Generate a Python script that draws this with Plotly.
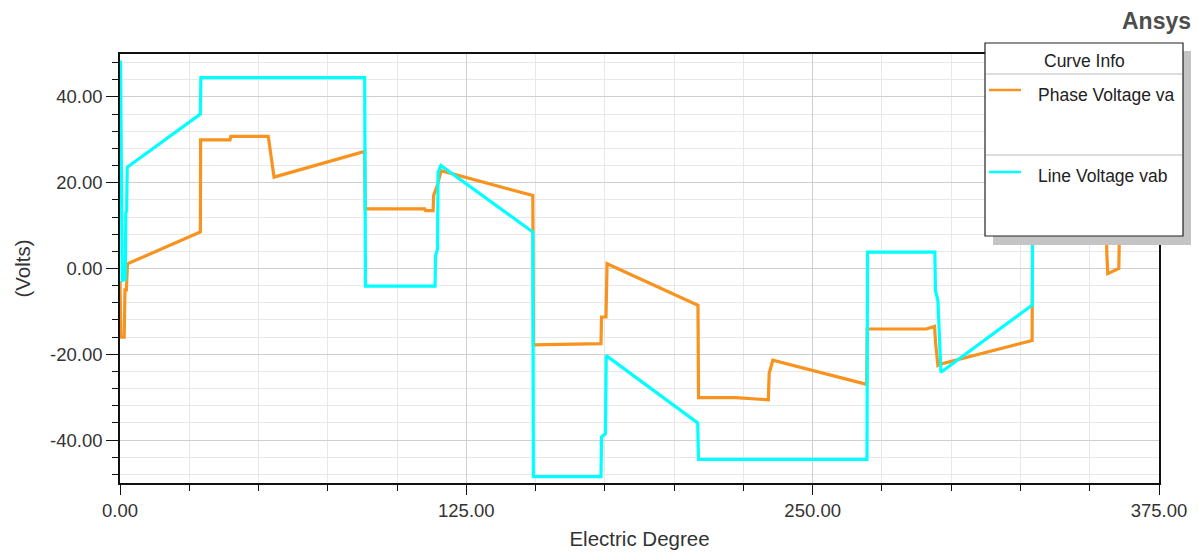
import plotly.graph_objects as go

# Phase Voltage va
va_x = [0.0, 0.3, 1.5, 1.8, 2.3, 2.7, 29.0, 29.1, 39.7, 40.0, 53.5, 54.2, 55.0, 55.6,
        88.3, 88.5, 110.0, 110.3, 113.0, 113.2, 114.6, 115.9, 149.0, 149.2, 173.6, 173.8,
        175.4, 175.8, 208.6, 208.8, 222.0, 234.0, 234.3, 235.6, 269.5, 269.7, 291.0, 294.0,
        294.3, 295.2, 296.0, 329.2, 329.4, 353.6, 353.9, 355.9, 356.2, 356.5, 360.5, 360.9]
va_y = [-3.0, -16.0, -16.0, -5.0, -5.0, 1.1, 8.5, 30.0, 30.0, 30.8, 30.8, 27.5, 24.0, 21.3,
        27.3, 13.9, 13.9, 13.5, 13.5, 17.0, 19.5, 22.8, 17.0, -17.8, -17.5, -11.3,
        -11.3, 1.1, -8.6, -30.1, -30.1, -30.6, -24.5, -21.4, -27.0, -14.1, -14.1, -13.5,
        -16.8, -22.6, -22.3, -16.8, 17.8, 17.8, 11.3, 11.3, 3.0, -1.2, 0.0, 16.0]

# Line Voltage vab
vab_x = [0.2, 0.8, 1.9, 2.1, 2.4, 2.6, 29.0, 29.2, 88.3, 88.6, 113.7, 113.9, 114.6, 114.8,
         115.8, 149.0, 149.2, 173.6, 173.8, 175.2, 175.5, 208.5, 208.8, 269.6, 269.8, 294.1,
         294.3, 295.2, 296.3, 329.3, 329.5, 353.6, 353.8, 355.2, 355.5, 361.0]
vab_y = [48.5, -2.8, -2.5, 13.0, 13.5, 23.6, 36.0, 44.5, 44.5, -4.1, -4.1, 3.0, 4.5, 22.4,
         24.0, 8.5, -48.5, -48.5, -39.3, -38.5, -20.3, -36.0, -44.5, -44.5, 3.8, 3.8,
         -5.1, -7.5, -24.2, -8.5, 48.5, 48.5, 39.3, 38.5, 20.3, 22.0]

series_names = ["Phase Voltage va", "Line Voltage vab"]
x_ticks = [0, 125, 250, 375]
x_labels = ["0.00", "125.00", "250.00", "375.00"]
y_ticks = [-40, -20, 0, 20, 40]
y_labels = ["-40.00", "-20.00", "0.00", "20.00", "40.00"]

ORANGE = "#F7931E"
CYAN = "#00FFFF"
FONT = "Liberation Sans, Arial, sans-serif"
TXT = "#333333"

fig = go.Figure()
fig.add_trace(go.Scatter(x=va_x, y=va_y, mode="lines", name=series_names[0],
                         line=dict(color=ORANGE, width=3.2)))
fig.add_trace(go.Scatter(x=vab_x, y=vab_y, mode="lines", name=series_names[1],
                         line=dict(color=CYAN, width=3.2)))

# page has an 8px body margin; work in window pixels and subtract it
OFF = 8
FW, FH = 1199 - OFF, 555 - OFF
L, R, T, B = 120, 1159, 54, 483   # plot area in window pixels
W, H = R - L, B - T
def px(x):
    return (x - L) / W
def py(y):
    return (B - y) / H

shapes = [
    dict(type="rect", xref="paper", yref="paper", x0=px(993), x1=px(1192), y0=py(245), y1=py(51),
         fillcolor="#c4c4c4", line=dict(width=0), layer="above"),
    dict(type="rect", xref="paper", yref="paper", x0=px(985), x1=px(1183), y0=py(236), y1=py(43),
         fillcolor="white", line=dict(color="#222222", width=1.2), layer="above"),
    dict(type="line", xref="paper", yref="paper", x0=px(986), x1=px(1182), y0=py(74), y1=py(74),
         line=dict(color="#bbbbbb", width=1), layer="above"),
    dict(type="line", xref="paper", yref="paper", x0=px(986), x1=px(1182), y0=py(155), y1=py(155),
         line=dict(color="#bbbbbb", width=1), layer="above"),
    dict(type="line", xref="paper", yref="paper", x0=px(989), x1=px(1021), y0=py(90), y1=py(90),
         line=dict(color=ORANGE, width=2.5), layer="above"),
    dict(type="line", xref="paper", yref="paper", x0=px(989), x1=px(1021), y0=py(172), y1=py(172),
         line=dict(color=CYAN, width=2.5), layer="above"),
]

annotations = [
    dict(text="Curve Info", xref="paper", yref="paper", x=px(1084), y=py(61), xanchor="center",
         yanchor="middle", showarrow=False, font=dict(family=FONT, size=17.5, color="#222222")),
    dict(text=series_names[0], xref="paper", yref="paper", x=px(1036), y=py(95), xanchor="left",
         yanchor="middle", showarrow=False, font=dict(family=FONT, size=17.5, color="#222222")),
    dict(text=series_names[1], xref="paper", yref="paper", x=px(1036), y=py(176), xanchor="left",
         yanchor="middle", showarrow=False, font=dict(family=FONT, size=17.5, color="#222222")),
    dict(text="<b>Ansys</b>", xref="paper", yref="paper", x=px(1193), y=py(21), xanchor="right",
         yanchor="middle", showarrow=False, font=dict(family=FONT, size=23, color="#4d4d4d")),
]

fig.update_layout(
    template="none",
    width=FW, height=FH,
    margin=dict(l=L - OFF, r=1199 - R, t=T - OFF, b=555 - B, autoexpand=False),
    paper_bgcolor="white", plot_bgcolor="white",
    showlegend=False,
    font=dict(family=FONT, size=18, color=TXT),
    shapes=shapes, annotations=annotations,
    xaxis=dict(
        automargin=False,
        range=[0, 375], tickmode="array", tickvals=x_ticks, ticktext=x_labels,
        ticks="outside", ticklen=10, tickcolor="#111111",
        showline=True, linecolor="#111111", linewidth=1.5, mirror=True,
        showgrid=True, gridcolor="#cfcfcf", gridwidth=1, zeroline=False,
        minor=dict(dtick=25, tick0=0, ticks="outside", ticklen=6, tickcolor="#111111",
                   showgrid=True, gridcolor="#e8e8e8", gridwidth=1),
        title=dict(text="Electric Degree", font=dict(size=20.5, color=TXT), standoff=12),
        tickfont=dict(size=18.5, color=TXT),
    ),
    yaxis=dict(
        automargin=False,
        range=[-50, 50], tickmode="array", tickvals=y_ticks, ticktext=y_labels,
        ticks="outside", ticklen=12, tickcolor="#111111",
        showline=True, linecolor="#111111", linewidth=1.5, mirror=True,
        showgrid=True, gridcolor="#cfcfcf", gridwidth=1, zeroline=False,
        minor=dict(dtick=4, tick0=0, ticks="outside", ticklen=6, tickcolor="#111111",
                   showgrid=True, gridcolor="#e8e8e8", gridwidth=1),
        title=dict(text="(Volts)", font=dict(size=20.5, color=TXT), standoff=14),
        tickfont=dict(size=18.5, color=TXT),
    ),
)

fig.write_html("out.html")
